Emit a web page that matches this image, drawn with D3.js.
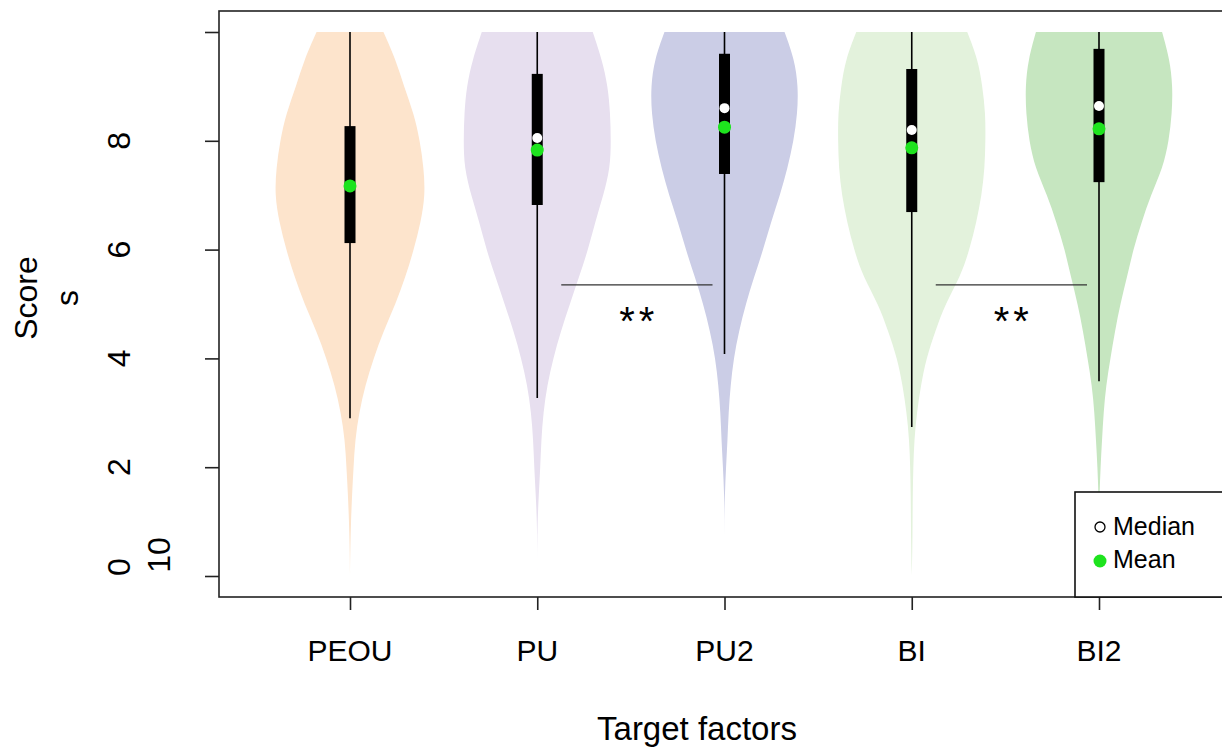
<!DOCTYPE html>
<html>
<head>
<meta charset="utf-8">
<script src="https://cdn.jsdelivr.net/npm/d3@7/dist/d3.min.js"></script>
<style>
  body { margin: 0; background: #fff; }
  svg { display: block; font-family: "Liberation Sans", Arial, sans-serif; }
</style>
</head>
<body>
<div id="chart"></div>
<script>
var width = 1222;
var height = 747;

// categories and summary stats
var factors = ["PEOU", "PU", "PU2", "BI", "BI2"];
var fills = ["#fde4cc", "#e7dfef", "#cbcde6", "#e3f2dc", "#c6e6c0"];
var q1 = [6.12, 6.82, 7.39, 6.69, 7.24];
var q3 = [8.27, 9.23, 9.60, 9.32, 9.69];
var medians = [7.17, 8.05, 8.60, 8.20, 8.64];
var means = [7.17, 7.83, 8.25, 7.87, 8.22];
var whiskerLow = [2.90, 3.27, 4.08, 2.74, 3.58];
var whiskerHigh = [10, 10, 10, 10, 10];

// density profile (relative half width) on a score grid
var scoreGrid = [0, 0.5, 1, 1.5, 2, 2.5, 3, 3.5, 4, 4.5, 5, 5.5, 6, 6.5, 7, 7.5, 8, 8.5, 9, 9.5, 10];
var densPEOU = [0, 0.004, 0.013, 0.027, 0.047, 0.067, 0.12, 0.20, 0.31, 0.44, 0.60, 0.73, 0.84, 0.93, 0.99, 0.97, 0.92, 0.84, 0.71, 0.60, 0.44];
var densPU   = [0, 0, 0.004, 0.02, 0.04, 0.053, 0.08, 0.13, 0.21, 0.31, 0.43, 0.55, 0.67, 0.76, 0.87, 0.96, 0.97, 0.96, 0.93, 0.85, 0.73];
var densPU2  = [0, 0, 0, 0.004, 0.02, 0.04, 0.053, 0.08, 0.12, 0.19, 0.28, 0.39, 0.51, 0.61, 0.73, 0.83, 0.91, 0.96, 0.97, 0.92, 0.79];
var densBI   = [0, 0.008, 0.011, 0.013, 0.02, 0.033, 0.067, 0.12, 0.19, 0.31, 0.44, 0.64, 0.76, 0.85, 0.92, 0.96, 0.97, 0.97, 0.93, 0.87, 0.73];
var densBI2  = [0, 0, 0, 0.007, 0.02, 0.04, 0.06, 0.093, 0.15, 0.21, 0.28, 0.37, 0.45, 0.56, 0.68, 0.84, 0.92, 0.96, 0.97, 0.93, 0.83];
var densities = [densPEOU, densPU, densPU2, densBI, densBI2];

// y axis ticks and significance marks
var yTicks = [0, 2, 4, 6, 8, 10];
var sigPairs = [["PU", "PU2"], ["BI", "BI2"]];
var sigLevel = 5.35;
var sigLabel = "**";

var svg = d3.select("#chart")
  .append("svg")
  .attr("width", width)
  .attr("height", height);

var x = d3.scalePoint()
  .domain(factors)
  .range([350, 1099]);

var y = d3.scaleLinear()
  .domain([0, 10])
  .range([576, 32]);

var w = d3.scaleLinear()
  .domain([0, 1])
  .range([0, 76]);

// violins
factors.forEach(function (f, i) {
  var cx = x(f);
  var pts = scoreGrid.map(function (s, j) { return { s: s, d: densities[i][j] }; });
  var area = d3.area()
    .x0(d => cx - w(d.d))
    .x1(d => cx + w(d.d))
    .y(d => y(d.s))
    .curve(d3.curveBasis);
  svg.append("path")
    .attr("d", area(pts))
    .attr("fill", fills[i]);
});

// whiskers
svg.selectAll(".whisker")
  .data(factors)
  .enter()
  .append("line")
  .attr("x1", d => x(d))
  .attr("x2", d => x(d))
  .attr("y1", (d, i) => y(whiskerLow[i]))
  .attr("y2", (d, i) => y(whiskerHigh[i]))
  .attr("stroke", "#000")
  .attr("stroke-width", 1.6);

// boxes
svg.selectAll(".iqr")
  .data(factors)
  .enter()
  .append("rect")
  .attr("x", d => x(d) - 5.5)
  .attr("width", 11)
  .attr("y", (d, i) => y(q3[i]))
  .attr("height", (d, i) => y(q1[i]) - y(q3[i]))
  .attr("fill", "#000");

// medians
svg.selectAll(".median")
  .data(factors)
  .enter()
  .append("circle")
  .attr("cx", d => x(d))
  .attr("cy", (d, i) => y(medians[i]))
  .attr("r", 5)
  .attr("fill", "#fff");

// means
svg.selectAll(".mean")
  .data(factors)
  .enter()
  .append("circle")
  .attr("cx", d => x(d))
  .attr("cy", (d, i) => y(means[i]))
  .attr("r", 6.5)
  .attr("fill", "#1ee31e");

// significance lines
sigPairs.forEach(function (p) {
  var a = x(p[0]), b = x(p[1]);
  svg.append("line")
    .attr("x1", a + 24)
    .attr("x2", b - 12)
    .attr("y1", y(sigLevel))
    .attr("y2", y(sigLevel))
    .attr("stroke", "#333")
    .attr("stroke-width", 1.3);
  svg.append("text")
    .attr("x", (a + b) / 2 + 8)
    .attr("y", y(sigLevel) + 50)
    .attr("text-anchor", "middle")
    .style("font-size", "40px")
    .style("letter-spacing", "4px")
    .text(sigLabel);
});

// frame
svg.append("rect")
  .attr("x", 219)
  .attr("y", 11)
  .attr("width", 1100)
  .attr("height", 586)
  .attr("fill", "none")
  .attr("stroke", "#222")
  .attr("stroke-width", 1.6);

// y axis
var yAxis = svg.append("g")
  .attr("transform", "translate(219,0)")
  .call(d3.axisLeft(y).tickValues(yTicks).tickSize(14).tickFormat(""));
yAxis.select(".domain").remove();
yAxis.selectAll(".tick line").attr("stroke", "#222").attr("stroke-width", 1.6);

// y tick labels (the "10" label sits low, as in the original)
svg.selectAll(".ylab")
  .data(yTicks)
  .enter()
  .append("text")
  .attr("transform", function (d) {
    if (d === 10) return "translate(170," + (y(0) - 21) + ") rotate(-90)";
    var yy = d === 0 ? y(d) - 9 : y(d);
    return "translate(130," + yy + ") rotate(-90)";
  })
  .attr("text-anchor", "middle")
  .style("font-size", "32px")
  .text(d => d);

// x axis
var xAxis = svg.append("g")
  .attr("transform", "translate(0,597)")
  .call(d3.axisBottom(x).tickSize(13).tickFormat(""));
xAxis.select(".domain").remove();
xAxis.selectAll(".tick line").attr("stroke", "#222").attr("stroke-width", 1.6);

svg.selectAll(".xlab")
  .data(factors)
  .enter()
  .append("text")
  .attr("x", d => x(d))
  .attr("y", 661)
  .attr("text-anchor", "middle")
  .style("font-size", "30px")
  .text(d => d);

// axis titles
svg.append("text")
  .attr("transform", "translate(37,298) rotate(-90)")
  .attr("text-anchor", "middle")
  .style("font-size", "32px")
  .text("Score");
svg.append("text")
  .attr("transform", "translate(78,298) rotate(-90)")
  .attr("text-anchor", "middle")
  .style("font-size", "32px")
  .text("s");

svg.append("text")
  .attr("x", 697)
  .attr("y", 740)
  .attr("text-anchor", "middle")
  .style("font-size", "33px")
  .text("Target factors");

// legend
var legend = svg.append("g");
legend.append("rect")
  .attr("x", 1075)
  .attr("y", 492)
  .attr("width", 200)
  .attr("height", 105)
  .attr("fill", "#fff")
  .attr("stroke", "#111")
  .attr("stroke-width", 1.6);
legend.append("circle")
  .attr("cx", 1100).attr("cy", 527).attr("r", 5)
  .attr("fill", "#fff").attr("stroke", "#000").attr("stroke-width", 1.3);
legend.append("text")
  .attr("x", 1113).attr("y", 535)
  .style("font-size", "25px")
  .text("Median");
legend.append("circle")
  .attr("cx", 1100).attr("cy", 561).attr("r", 6.5)
  .attr("fill", "#1ee31e");
legend.append("text")
  .attr("x", 1113).attr("y", 568)
  .style("font-size", "25px")
  .text("Mean");
</script>
</body>
</html>
